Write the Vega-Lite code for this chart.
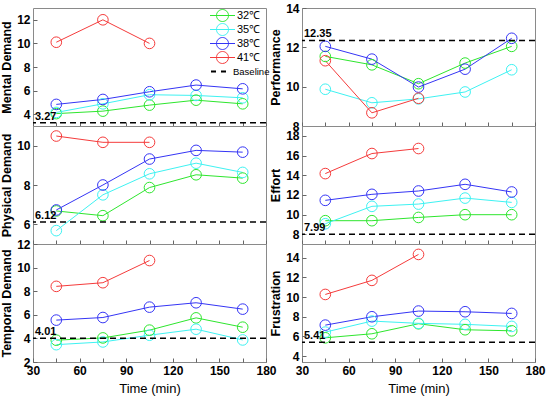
{
  "$schema": "https://vega.github.io/schema/vega-lite/v6.json",
  "padding": {"left": 0, "top": 1, "right": 5, "bottom": 2},
  "background": "white",
  "datasets": {
    "series": [
      {"p": "Mental Demand", "t": "32℃", "x": 45, "y": 4.05},
      {"p": "Mental Demand", "t": "32℃", "x": 75, "y": 4.26},
      {"p": "Mental Demand", "t": "32℃", "x": 105, "y": 4.77},
      {"p": "Mental Demand", "t": "32℃", "x": 135, "y": 5.19},
      {"p": "Mental Demand", "t": "32℃", "x": 165, "y": 4.88},
      {"p": "Mental Demand", "t": "35℃", "x": 45, "y": 4.15},
      {"p": "Mental Demand", "t": "35℃", "x": 75, "y": 4.88},
      {"p": "Mental Demand", "t": "35℃", "x": 105, "y": 5.65},
      {"p": "Mental Demand", "t": "35℃", "x": 135, "y": 5.59},
      {"p": "Mental Demand", "t": "35℃", "x": 165, "y": 5.39},
      {"p": "Mental Demand", "t": "38℃", "x": 45, "y": 4.83},
      {"p": "Mental Demand", "t": "38℃", "x": 75, "y": 5.25},
      {"p": "Mental Demand", "t": "38℃", "x": 105, "y": 5.9},
      {"p": "Mental Demand", "t": "38℃", "x": 135, "y": 6.47},
      {"p": "Mental Demand", "t": "38℃", "x": 165, "y": 6.15},
      {"p": "Mental Demand", "t": "41℃", "x": 45, "y": 10.1},
      {"p": "Mental Demand", "t": "41℃", "x": 75, "y": 12.0},
      {"p": "Mental Demand", "t": "41℃", "x": 105, "y": 10.0},
      {"p": "Physical Demand", "t": "32℃", "x": 45, "y": 6.68},
      {"p": "Physical Demand", "t": "32℃", "x": 75, "y": 6.44},
      {"p": "Physical Demand", "t": "32℃", "x": 105, "y": 7.87},
      {"p": "Physical Demand", "t": "32℃", "x": 135, "y": 8.52},
      {"p": "Physical Demand", "t": "32℃", "x": 165, "y": 8.35},
      {"p": "Physical Demand", "t": "35℃", "x": 45, "y": 5.68},
      {"p": "Physical Demand", "t": "35℃", "x": 75, "y": 7.5},
      {"p": "Physical Demand", "t": "35℃", "x": 105, "y": 8.57},
      {"p": "Physical Demand", "t": "35℃", "x": 135, "y": 9.11},
      {"p": "Physical Demand", "t": "35℃", "x": 165, "y": 8.64},
      {"p": "Physical Demand", "t": "38℃", "x": 45, "y": 6.73},
      {"p": "Physical Demand", "t": "38℃", "x": 75, "y": 8.0},
      {"p": "Physical Demand", "t": "38℃", "x": 105, "y": 9.32},
      {"p": "Physical Demand", "t": "38℃", "x": 135, "y": 9.76},
      {"p": "Physical Demand", "t": "38℃", "x": 165, "y": 9.67},
      {"p": "Physical Demand", "t": "41℃", "x": 45, "y": 10.49},
      {"p": "Physical Demand", "t": "41℃", "x": 75, "y": 10.17},
      {"p": "Physical Demand", "t": "41℃", "x": 105, "y": 10.17},
      {"p": "Temporal Demand", "t": "32℃", "x": 45, "y": 3.85},
      {"p": "Temporal Demand", "t": "32℃", "x": 75, "y": 4.04},
      {"p": "Temporal Demand", "t": "32℃", "x": 105, "y": 4.7},
      {"p": "Temporal Demand", "t": "32℃", "x": 135, "y": 5.74},
      {"p": "Temporal Demand", "t": "32℃", "x": 165, "y": 4.95},
      {"p": "Temporal Demand", "t": "35℃", "x": 45, "y": 3.47},
      {"p": "Temporal Demand", "t": "35℃", "x": 75, "y": 3.7},
      {"p": "Temporal Demand", "t": "35℃", "x": 105, "y": 4.27},
      {"p": "Temporal Demand", "t": "35℃", "x": 135, "y": 4.78},
      {"p": "Temporal Demand", "t": "35℃", "x": 165, "y": 3.87},
      {"p": "Temporal Demand", "t": "38℃", "x": 45, "y": 5.55},
      {"p": "Temporal Demand", "t": "38℃", "x": 75, "y": 5.77},
      {"p": "Temporal Demand", "t": "38℃", "x": 105, "y": 6.65},
      {"p": "Temporal Demand", "t": "38℃", "x": 135, "y": 7.02},
      {"p": "Temporal Demand", "t": "38℃", "x": 165, "y": 6.48},
      {"p": "Temporal Demand", "t": "41℃", "x": 45, "y": 8.41},
      {"p": "Temporal Demand", "t": "41℃", "x": 75, "y": 8.72},
      {"p": "Temporal Demand", "t": "41℃", "x": 105, "y": 10.6},
      {"p": "Performance", "t": "32℃", "x": 45, "y": 11.54},
      {"p": "Performance", "t": "32℃", "x": 75, "y": 11.11},
      {"p": "Performance", "t": "32℃", "x": 105, "y": 10.15},
      {"p": "Performance", "t": "32℃", "x": 135, "y": 11.2},
      {"p": "Performance", "t": "32℃", "x": 165, "y": 12.05},
      {"p": "Performance", "t": "35℃", "x": 45, "y": 9.87},
      {"p": "Performance", "t": "35℃", "x": 75, "y": 9.18},
      {"p": "Performance", "t": "35℃", "x": 105, "y": 9.38},
      {"p": "Performance", "t": "35℃", "x": 135, "y": 9.73},
      {"p": "Performance", "t": "35℃", "x": 165, "y": 10.86},
      {"p": "Performance", "t": "38℃", "x": 45, "y": 12.05},
      {"p": "Performance", "t": "38℃", "x": 75, "y": 11.4},
      {"p": "Performance", "t": "38℃", "x": 105, "y": 9.98},
      {"p": "Performance", "t": "38℃", "x": 135, "y": 10.89},
      {"p": "Performance", "t": "38℃", "x": 165, "y": 12.46},
      {"p": "Performance", "t": "41℃", "x": 45, "y": 11.32},
      {"p": "Performance", "t": "41℃", "x": 75, "y": 8.67},
      {"p": "Performance", "t": "41℃", "x": 105, "y": 9.41},
      {"p": "Effort", "t": "32℃", "x": 45, "y": 9.37},
      {"p": "Effort", "t": "32℃", "x": 75, "y": 9.37},
      {"p": "Effort", "t": "32℃", "x": 105, "y": 9.7},
      {"p": "Effort", "t": "32℃", "x": 135, "y": 9.98},
      {"p": "Effort", "t": "32℃", "x": 165, "y": 9.98},
      {"p": "Effort", "t": "35℃", "x": 45, "y": 9.06},
      {"p": "Effort", "t": "35℃", "x": 75, "y": 10.83},
      {"p": "Effort", "t": "35℃", "x": 105, "y": 11.06},
      {"p": "Effort", "t": "35℃", "x": 135, "y": 11.67},
      {"p": "Effort", "t": "35℃", "x": 165, "y": 11.23},
      {"p": "Effort", "t": "38℃", "x": 45, "y": 11.44},
      {"p": "Effort", "t": "38℃", "x": 75, "y": 12.05},
      {"p": "Effort", "t": "38℃", "x": 105, "y": 12.39},
      {"p": "Effort", "t": "38℃", "x": 135, "y": 13.07},
      {"p": "Effort", "t": "38℃", "x": 165, "y": 12.29},
      {"p": "Effort", "t": "41℃", "x": 45, "y": 14.16},
      {"p": "Effort", "t": "41℃", "x": 75, "y": 16.2},
      {"p": "Effort", "t": "41℃", "x": 105, "y": 16.71},
      {"p": "Frustration", "t": "32℃", "x": 45, "y": 5.86},
      {"p": "Frustration", "t": "32℃", "x": 75, "y": 6.27},
      {"p": "Frustration", "t": "32℃", "x": 105, "y": 7.29},
      {"p": "Frustration", "t": "32℃", "x": 135, "y": 6.68},
      {"p": "Frustration", "t": "32℃", "x": 165, "y": 6.57},
      {"p": "Frustration", "t": "35℃", "x": 45, "y": 6.44},
      {"p": "Frustration", "t": "35℃", "x": 75, "y": 7.56},
      {"p": "Frustration", "t": "35℃", "x": 105, "y": 7.33},
      {"p": "Frustration", "t": "35℃", "x": 135, "y": 7.23},
      {"p": "Frustration", "t": "35℃", "x": 165, "y": 7.02},
      {"p": "Frustration", "t": "38℃", "x": 45, "y": 7.15},
      {"p": "Frustration", "t": "38℃", "x": 75, "y": 8.0},
      {"p": "Frustration", "t": "38℃", "x": 105, "y": 8.58},
      {"p": "Frustration", "t": "38℃", "x": 135, "y": 8.51},
      {"p": "Frustration", "t": "38℃", "x": 165, "y": 8.34},
      {"p": "Frustration", "t": "41℃", "x": 45, "y": 10.27},
      {"p": "Frustration", "t": "41℃", "x": 75, "y": 11.7},
      {"p": "Frustration", "t": "41℃", "x": 105, "y": 14.34}
    ],
    "base": [
      {"p": "Mental Demand", "y": 3.27, "label": "3.27"},
      {"p": "Physical Demand", "y": 6.12, "label": "6.12"},
      {"p": "Temporal Demand", "y": 4.01, "label": "4.01"},
      {"p": "Performance", "y": 12.35, "label": "12.35"},
      {"p": "Effort", "y": 7.99, "label": "7.99"},
      {"p": "Frustration", "y": 5.41, "label": "5.41"}
    ]
  },
  "columns": 2,
  "bounds": "flush",
  "spacing": {"row": 0, "column": 36},
  "resolve": {"scale": {"color": "independent"}, "legend": {"color": "independent"}},
  "concat": [
    {
      "width": 233, "height": 118,
      "layer": [
        {"data": {"name": "series"}, "transform": [{"filter": "datum.p === 'Mental Demand'"}],
         "mark": {"type": "line", "strokeWidth": 1},
         "encoding": {
           "x": {"field": "x", "type": "quantitative", "scale": {"domain": [30, 180], "nice": false}, "axis": {"values": [30, 45, 60, 75, 90, 105, 120, 135, 150, 165, 180], "tickCount": 30, "format": "d", "labels": false, "title": null}},
           "y": {"field": "y", "type": "quantitative", "scale": {"domain": [3, 13], "nice": false, "zero": false}, "axis": {"values": [4, 6, 8, 10, 12], "tickCount": 30, "format": "d", "title": "Mental Demand"}},
           "color": {"field": "t", "type": "nominal", "scale": {"domain": ["32℃", "35℃", "38℃", "41℃", "Baseline"], "range": ["#2ee62e", "#3ef2f2", "#3535f5", "#f53b3b", "#000000"]},
             "legend": {"orient": "top-right", "offset": -4, "padding": 0, "title": " ", "titleFontSize": 2, "titlePadding": 4, "labelFontSize": 11, "labelFont": "Liberation Sans", "labelColor": "black", "symbolSize": 100, "labelOffset": 9, "rowPadding": -4, "symbolStrokeWidth": 1, "symbolFillColor": "transparent",
               "symbolType": "M-2.5,0H2.5M-1.2,0A1.2,1.2 0 1 1 1.2,0A1.2,1.2 0 1 1 -1.2,0",
               "encode": {
                 "symbols": {"update": {
                   "shape": {"signal": "datum.value === 'Baseline' ? 'M-2.3,0H-1.3M-0.3,0H0.7' : 'M-2.5,0H2.5M-1.2,0A1.2,1.2 0 1 1 1.2,0A1.2,1.2 0 1 1 -1.2,0'"},
                   "strokeWidth": {"signal": "datum.value === 'Baseline' ? 2 : 1"},
                   "fill": {"value": "transparent"}
                 }},
                 "labels": {"update": {
                   "fontSize": {"signal": "datum.value === 'Baseline' ? 9.5 : 11"},
                   "dx": {"signal": "datum.value === 'Baseline' ? -4 : 0"}
                 }}
               }}}
         }},
        {"data": {"name": "series"}, "transform": [{"filter": "datum.p === 'Mental Demand'"}],
         "mark": {"type": "point", "filled": false, "size": 113, "strokeWidth": 1, "opacity": 1},
         "encoding": {
           "x": {"field": "x", "type": "quantitative"},
           "y": {"field": "y", "type": "quantitative"},
           "color": {"field": "t", "type": "nominal"}
         }},
        {"data": {"name": "base"}, "transform": [{"filter": "datum.p === 'Mental Demand'"}],
         "mark": {"type": "rule", "strokeDash": [6, 4], "strokeWidth": 1.6},
         "encoding": {"y": {"field": "y", "type": "quantitative"}, "color": {"datum": "Baseline"}}},
        {"data": {"name": "base"}, "transform": [{"filter": "datum.p === 'Mental Demand'"}],
         "mark": {"type": "text", "align": "left", "baseline": "bottom", "dx": 2, "dy": -1, "fontSize": 11, "fontWeight": "bold", "font": "Liberation Sans", "color": "black"},
         "encoding": {"x": {"datum": 30}, "y": {"field": "y", "type": "quantitative"}, "text": {"field": "label"}}}
      ]
    },
    {
      "width": 233, "height": 118,
      "layer": [
        {"data": {"name": "series"}, "transform": [{"filter": "datum.p === 'Performance'"}],
         "mark": {"type": "line", "strokeWidth": 1},
         "encoding": {
           "x": {"field": "x", "type": "quantitative", "scale": {"domain": [30, 180], "nice": false}, "axis": {"values": [30, 45, 60, 75, 90, 105, 120, 135, 150, 165, 180], "tickCount": 30, "format": "d", "labels": false, "title": null}},
           "y": {"field": "y", "type": "quantitative", "scale": {"domain": [8, 14], "nice": false, "zero": false}, "axis": {"values": [8, 10, 12, 14], "tickCount": 30, "format": "d", "title": "Performance"}},
           "color": {"field": "t", "type": "nominal", "scale": {"domain": ["32℃", "35℃", "38℃", "41℃", "Baseline"], "range": ["#2ee62e", "#3ef2f2", "#3535f5", "#f53b3b", "#000000"]}, "legend": null}
         }},
        {"data": {"name": "series"}, "transform": [{"filter": "datum.p === 'Performance'"}],
         "mark": {"type": "point", "filled": false, "size": 113, "strokeWidth": 1, "opacity": 1},
         "encoding": {"x": {"field": "x", "type": "quantitative"}, "y": {"field": "y", "type": "quantitative"}, "color": {"field": "t", "type": "nominal"}}},
        {"data": {"name": "base"}, "transform": [{"filter": "datum.p === 'Performance'"}],
         "mark": {"type": "rule", "strokeDash": [6, 4], "strokeWidth": 1.6},
         "encoding": {"y": {"field": "y", "type": "quantitative"}, "color": {"datum": "Baseline"}}},
        {"data": {"name": "base"}, "transform": [{"filter": "datum.p === 'Performance'"}],
         "mark": {"type": "text", "align": "left", "baseline": "bottom", "dx": 2, "dy": -1, "fontSize": 11, "fontWeight": "bold", "font": "Liberation Sans", "color": "black"},
         "encoding": {"x": {"datum": 30}, "y": {"field": "y", "type": "quantitative"}, "text": {"field": "label"}}}
      ]
    },
    {
      "width": 233, "height": 118,
      "layer": [
        {"data": {"name": "series"}, "transform": [{"filter": "datum.p === 'Physical Demand'"}],
         "mark": {"type": "line", "strokeWidth": 1},
         "encoding": {
           "x": {"field": "x", "type": "quantitative", "scale": {"domain": [30, 180], "nice": false}, "axis": {"values": [30, 45, 60, 75, 90, 105, 120, 135, 150, 165, 180], "tickCount": 30, "format": "d", "labels": false, "title": null}},
           "y": {"field": "y", "type": "quantitative", "scale": {"domain": [5, 11], "nice": false, "zero": false}, "axis": {"values": [6, 8, 10], "tickCount": 30, "format": "d", "title": "Physical Demand"}},
           "color": {"field": "t", "type": "nominal", "scale": {"domain": ["32℃", "35℃", "38℃", "41℃", "Baseline"], "range": ["#2ee62e", "#3ef2f2", "#3535f5", "#f53b3b", "#000000"]}, "legend": null}
         }},
        {"data": {"name": "series"}, "transform": [{"filter": "datum.p === 'Physical Demand'"}],
         "mark": {"type": "point", "filled": false, "size": 113, "strokeWidth": 1, "opacity": 1},
         "encoding": {"x": {"field": "x", "type": "quantitative"}, "y": {"field": "y", "type": "quantitative"}, "color": {"field": "t", "type": "nominal"}}},
        {"data": {"name": "base"}, "transform": [{"filter": "datum.p === 'Physical Demand'"}],
         "mark": {"type": "rule", "strokeDash": [6, 4], "strokeWidth": 1.6},
         "encoding": {"y": {"field": "y", "type": "quantitative"}, "color": {"datum": "Baseline"}}},
        {"data": {"name": "base"}, "transform": [{"filter": "datum.p === 'Physical Demand'"}],
         "mark": {"type": "text", "align": "left", "baseline": "bottom", "dx": 2, "dy": -1, "fontSize": 11, "fontWeight": "bold", "font": "Liberation Sans", "color": "black"},
         "encoding": {"x": {"datum": 30}, "y": {"field": "y", "type": "quantitative"}, "text": {"field": "label"}}}
      ]
    },
    {
      "width": 233, "height": 118,
      "layer": [
        {"data": {"name": "series"}, "transform": [{"filter": "datum.p === 'Effort'"}],
         "mark": {"type": "line", "strokeWidth": 1},
         "encoding": {
           "x": {"field": "x", "type": "quantitative", "scale": {"domain": [30, 180], "nice": false}, "axis": {"values": [30, 45, 60, 75, 90, 105, 120, 135, 150, 165, 180], "tickCount": 30, "format": "d", "labels": false, "title": null}},
           "y": {"field": "y", "type": "quantitative", "scale": {"domain": [7, 19], "nice": false, "zero": false}, "axis": {"values": [8, 10, 12, 14, 16, 18], "tickCount": 30, "format": "d", "title": "Effort"}},
           "color": {"field": "t", "type": "nominal", "scale": {"domain": ["32℃", "35℃", "38℃", "41℃", "Baseline"], "range": ["#2ee62e", "#3ef2f2", "#3535f5", "#f53b3b", "#000000"]}, "legend": null}
         }},
        {"data": {"name": "series"}, "transform": [{"filter": "datum.p === 'Effort'"}],
         "mark": {"type": "point", "filled": false, "size": 113, "strokeWidth": 1, "opacity": 1},
         "encoding": {"x": {"field": "x", "type": "quantitative"}, "y": {"field": "y", "type": "quantitative"}, "color": {"field": "t", "type": "nominal"}}},
        {"data": {"name": "base"}, "transform": [{"filter": "datum.p === 'Effort'"}],
         "mark": {"type": "rule", "strokeDash": [6, 4], "strokeWidth": 1.6},
         "encoding": {"y": {"field": "y", "type": "quantitative"}, "color": {"datum": "Baseline"}}},
        {"data": {"name": "base"}, "transform": [{"filter": "datum.p === 'Effort'"}],
         "mark": {"type": "text", "align": "left", "baseline": "bottom", "dx": 2, "dy": -1, "fontSize": 11, "fontWeight": "bold", "font": "Liberation Sans", "color": "black"},
         "encoding": {"x": {"datum": 30}, "y": {"field": "y", "type": "quantitative"}, "text": {"field": "label"}}}
      ]
    },
    {
      "width": 233, "height": 118,
      "layer": [
        {"data": {"name": "series"}, "transform": [{"filter": "datum.p === 'Temporal Demand'"}],
         "mark": {"type": "line", "strokeWidth": 1},
         "encoding": {
           "x": {"field": "x", "type": "quantitative", "scale": {"domain": [30, 180], "nice": false}, "axis": {"values": [30, 45, 60, 75, 90, 105, 120, 135, 150, 165, 180], "tickCount": 30, "format": "d", "labelExpr": "datum.value % 30 === 0 ? datum.label : ''", "title": "Time (min)", "titleFontWeight": "normal", "titleFontSize": 13, "titlePadding": 6}},
           "y": {"field": "y", "type": "quantitative", "scale": {"domain": [2, 12], "nice": false, "zero": false}, "axis": {"values": [2, 4, 6, 8, 10, 12], "tickCount": 30, "format": "d", "title": "Temporal Demand"}},
           "color": {"field": "t", "type": "nominal", "scale": {"domain": ["32℃", "35℃", "38℃", "41℃", "Baseline"], "range": ["#2ee62e", "#3ef2f2", "#3535f5", "#f53b3b", "#000000"]}, "legend": null}
         }},
        {"data": {"name": "series"}, "transform": [{"filter": "datum.p === 'Temporal Demand'"}],
         "mark": {"type": "point", "filled": false, "size": 113, "strokeWidth": 1, "opacity": 1},
         "encoding": {"x": {"field": "x", "type": "quantitative"}, "y": {"field": "y", "type": "quantitative"}, "color": {"field": "t", "type": "nominal"}}},
        {"data": {"name": "base"}, "transform": [{"filter": "datum.p === 'Temporal Demand'"}],
         "mark": {"type": "rule", "strokeDash": [6, 4], "strokeWidth": 1.6},
         "encoding": {"y": {"field": "y", "type": "quantitative"}, "color": {"datum": "Baseline"}}},
        {"data": {"name": "base"}, "transform": [{"filter": "datum.p === 'Temporal Demand'"}],
         "mark": {"type": "text", "align": "left", "baseline": "bottom", "dx": 2, "dy": -1, "fontSize": 11, "fontWeight": "bold", "font": "Liberation Sans", "color": "black"},
         "encoding": {"x": {"datum": 30}, "y": {"field": "y", "type": "quantitative"}, "text": {"field": "label"}}}
      ]
    },
    {
      "width": 233, "height": 118,
      "layer": [
        {"data": {"name": "series"}, "transform": [{"filter": "datum.p === 'Frustration'"}],
         "mark": {"type": "line", "strokeWidth": 1},
         "encoding": {
           "x": {"field": "x", "type": "quantitative", "scale": {"domain": [30, 180], "nice": false}, "axis": {"values": [30, 45, 60, 75, 90, 105, 120, 135, 150, 165, 180], "tickCount": 30, "format": "d", "labelExpr": "datum.value % 30 === 0 ? datum.label : ''", "title": "Time (min)", "titleFontWeight": "normal", "titleFontSize": 13, "titlePadding": 6}},
           "y": {"field": "y", "type": "quantitative", "scale": {"domain": [3.4, 15.4], "nice": false, "zero": false}, "axis": {"values": [4, 6, 8, 10, 12, 14], "tickCount": 30, "format": "d", "title": "Frustration"}},
           "color": {"field": "t", "type": "nominal", "scale": {"domain": ["32℃", "35℃", "38℃", "41℃", "Baseline"], "range": ["#2ee62e", "#3ef2f2", "#3535f5", "#f53b3b", "#000000"]}, "legend": null}
         }},
        {"data": {"name": "series"}, "transform": [{"filter": "datum.p === 'Frustration'"}],
         "mark": {"type": "point", "filled": false, "size": 113, "strokeWidth": 1, "opacity": 1},
         "encoding": {"x": {"field": "x", "type": "quantitative"}, "y": {"field": "y", "type": "quantitative"}, "color": {"field": "t", "type": "nominal"}}},
        {"data": {"name": "base"}, "transform": [{"filter": "datum.p === 'Frustration'"}],
         "mark": {"type": "rule", "strokeDash": [6, 4], "strokeWidth": 1.6},
         "encoding": {"y": {"field": "y", "type": "quantitative"}, "color": {"datum": "Baseline"}}},
        {"data": {"name": "base"}, "transform": [{"filter": "datum.p === 'Frustration'"}],
         "mark": {"type": "text", "align": "left", "baseline": "bottom", "dx": 2, "dy": -1, "fontSize": 11, "fontWeight": "bold", "font": "Liberation Sans", "color": "black"},
         "encoding": {"x": {"datum": 30}, "y": {"field": "y", "type": "quantitative"}, "text": {"field": "label"}}}
      ]
    }
  ],
  "config": {
    "view": {"stroke": "#8a8a8a", "strokeWidth": 1},
    "axis": {
      "grid": false, "domain": false,
      "labelFont": "Liberation Sans", "labelFontWeight": "bold", "labelFontSize": 12, "labelColor": "black",
      "titleFont": "Liberation Sans", "titleFontWeight": "bold", "titleFontSize": 12.5, "titleColor": "black",
      "tickSize": -4, "tickColor": "#666", "labelPadding": 7, "labelOverlap": false, "labelFlush": false, "labelBound": false,
      "titlePadding": 3
    }
  }
}
